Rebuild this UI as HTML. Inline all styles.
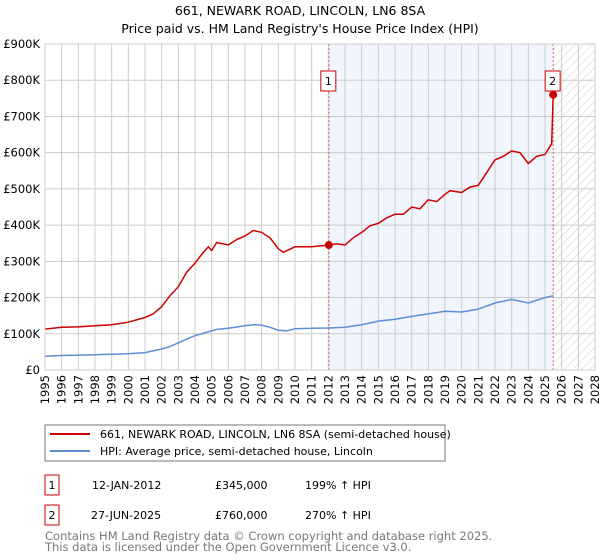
<!DOCTYPE html>
<html><head><meta charset="utf-8"><style>
body{margin:0;background:#fff}
svg{display:block;font-family:"DejaVu Sans","Liberation Sans",sans-serif}
</style></head><body>
<svg id="c" width="600" height="560" viewBox="0 0 600 560">
<text x="300" y="15" text-anchor="middle" font-size="12.5">661, NEWARK ROAD, LINCOLN, LN6 8SA</text>
<text x="300" y="33" text-anchor="middle" font-size="12.5">Price paid vs. HM Land Registry's House Price Index (HPI)</text>
<defs><pattern id="hatch" width="6" height="6" patternUnits="userSpaceOnUse" patternTransform="rotate(45)"><line x1="0" y1="0" x2="0" y2="6" stroke="#ccc" stroke-width="1"/></pattern></defs>
<g id="plot"></g>
<rect x="45" y="425" width="400" height="36" fill="#fff" stroke="#777"/>
<line x1="50" y1="434" x2="90" y2="434" stroke="#cc0000" stroke-width="2"/>
<text x="100" y="438" font-size="11">661, NEWARK ROAD, LINCOLN, LN6 8SA (semi-detached house)</text>
<line x1="50" y1="451" x2="90" y2="451" stroke="#5b8fd4" stroke-width="2"/>
<text x="100" y="455" font-size="11">HPI: Average price, semi-detached house, Lincoln</text>
<g font-size="11">
<rect x="45" y="475" width="14" height="20" fill="#fff" stroke="#cc0000"/>
<text x="52" y="489" text-anchor="middle">1</text>
<text x="92" y="489">12-JAN-2012</text><text x="215" y="489">£345,000</text><text x="305" y="489">199% ↑ HPI</text>
<rect x="45" y="505" width="14" height="20" fill="#fff" stroke="#cc0000"/>
<text x="52" y="519" text-anchor="middle">2</text>
<text x="91" y="519">27-JUN-2025</text><text x="215" y="519">£760,000</text><text x="305" y="519">270% ↑ HPI</text>
</g>
<text x="45" y="540" font-size="11.5" fill="#777">Contains HM Land Registry data © Crown copyright and database right 2025.</text>
<text x="45" y="551" font-size="11.5" fill="#777">This data is licensed under the Open Government Licence v3.0.</text>
</svg>
<script>
const yTicks=[0,100,200,300,400,500,600,700,800,900];
const yTickLabels=["£0","£100K","£200K","£300K","£400K","£500K","£600K","£700K","£800K","£900K"];
const years=[1995,1996,1997,1998,1999,2000,2001,2002,2003,2004,2005,2006,2007,2008,2009,2010,2011,2012,2013,2014,2015,2016,2017,2018,2019,2020,2021,2022,2023,2024,2025,2026,2027,2028];
const priceT=[1995,1996,1997,1998,1999,2000,2001,2001.5,2002,2002.5,2003,2003.5,2004,2004.5,2004.8,2005,2005.3,2006,2006.5,2007,2007.5,2008,2008.5,2009,2009.3,2010,2011,2012.03,2012.5,2013,2013.5,2014,2014.5,2015,2015.5,2016,2016.5,2017,2017.5,2018,2018.5,2019,2019.3,2020,2020.5,2021,2021.5,2022,2022.5,2023,2023.5,2024,2024.5,2025,2025.4,2025.49];
const priceV=[113,118,119,122,125,132,145,155,175,205,230,270,295,325,340,330,352,345,360,370,385,380,365,335,325,340,340,345,348,345,365,380,398,405,420,430,430,450,445,470,465,485,495,490,505,510,545,580,590,605,600,570,590,595,625,760];
const hpiT=[1995,1996,1998,2000,2001,2002,2002.5,2003,2003.5,2004,2005,2005.3,2006,2007,2007.5,2008,2008.5,2009,2009.5,2010,2011,2012,2013,2014,2015,2016,2017,2018,2019,2020,2021,2022,2023,2024,2025,2025.49];
const hpiV=[38,40,42,45,48,58,65,75,85,95,108,112,115,122,125,124,118,110,108,114,115,116,118,125,135,140,148,155,162,160,168,185,195,185,200,205];
const sales=[{t:2012.03,v:345,n:"1"},{t:2025.49,v:760,n:"2"}];
const X0=45,X1=595,Y0=370,Y1=44;
const xs=t=>X0+(t-1995)*(X1-X0)/33;
const ys=v=>Y0-v*(Y0-Y1)/900;
const NS="http://www.w3.org/2000/svg";
const g=document.getElementById('plot');
function mk(tag,attrs,parent){const e=document.createElementNS(NS,tag);for(const k in attrs)e.setAttribute(k,attrs[k]);(parent||g).appendChild(e);return e;}
let e;
e=mk('rect',{x:xs(sales[0].t),y:Y1,width:xs(sales[1].t)-xs(sales[0].t),height:Y0-Y1,fill:'#eef3fd',opacity:0.8});


e=mk('rect',{x:xs(sales[1].t),y:Y1,width:X1-xs(sales[1].t),height:Y0-Y1,fill:'url(#hatch)'});


years.forEach(y=>{e=mk('line',{x1:xs(y),x2:xs(y),y1:Y1,y2:Y0,stroke:'#ccc'});


e=mk('text',{x:0,y:0,'font-size':11.5,'text-anchor':'end',transform:`translate(${xs(y)+4},375) rotate(-90)`});e.textContent=y;

});
yTicks.forEach((v,i)=>{e=mk('line',{x1:X0,x2:X1,y1:ys(v),y2:ys(v),stroke:'#ccc'});


e=mk('text',{x:X0-5,y:ys(v)+4,'font-size':11.5,'text-anchor':'end'});e.textContent=yTickLabels[i];

});
sales.forEach(s=>{e=mk('line',{x1:xs(s.t),x2:xs(s.t),y1:Y1,y2:Y0,stroke:'#e06060','stroke-dasharray':'2,2'});

});
const path=(T,V)=>T.map((t,i)=>(i?'L':'M')+xs(t).toFixed(1)+','+ys(V[i]).toFixed(1)).join('');
e=mk('path',{d:path(hpiT,hpiV),fill:'none',stroke:'#5b8fd4','stroke-width':1.5});


e=mk('path',{d:path(priceT,priceV),fill:'none',stroke:'#cc0000','stroke-width':1.5});


sales.forEach(s=>{e=mk('circle',{cx:xs(s.t),cy:ys(s.v),r:4,fill:'#cc0000'});


e=mk('rect',{x:xs(s.t)-8,y:71,width:15,height:20,fill:'#fff',stroke:'#cc0000'});


e=mk('text',{x:xs(s.t)-0.5,y:85,'font-size':11,'text-anchor':'middle'});e.textContent=s.n;

});
e=mk('rect',{x:X0,y:Y1,width:X1-X0,height:Y0-Y1,fill:'none',stroke:'#ccc'});


</script>
</body></html>
